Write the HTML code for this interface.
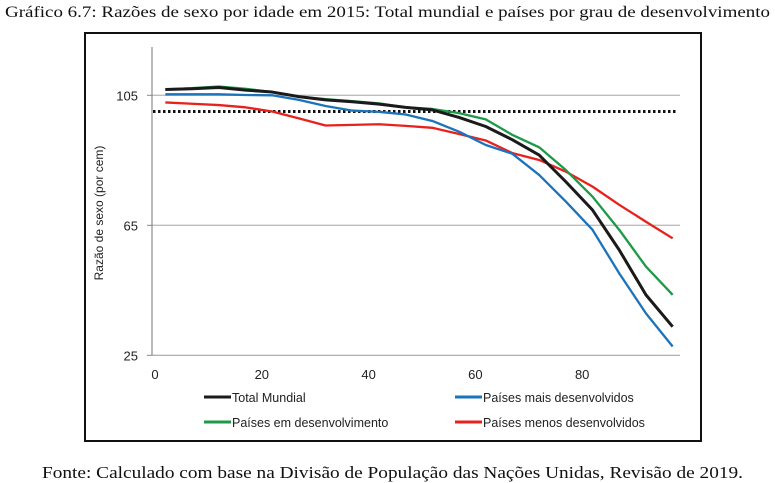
<!DOCTYPE html>
<html><head><meta charset="utf-8"><style>
html,body{margin:0;padding:0;background:#fff;}
svg{display:block;}
</style></head><body>
<svg id="chart" width="775" height="483" viewBox="0 0 775 483" xmlns="http://www.w3.org/2000/svg">
<text x="5" y="17" font-family="Liberation Serif, serif" font-size="16" textLength="765" lengthAdjust="spacingAndGlyphs" fill="#111">Gráfico 6.7: Razões de sexo por idade em 2015: Total mundial e países por grau de desenvolvimento</text>
<rect x="85" y="33" width="616" height="408" fill="none" stroke="#111" stroke-width="2"/>
<g id="grid"></g>
<g id="axes"></g>
<g id="series"></g>
<text transform="translate(103,213) rotate(-90)" text-anchor="middle" font-family="Liberation Sans, sans-serif" font-size="12" fill="#222">Razão de sexo (por cem)</text>
<g id="legend"></g>
<text x="42" y="478" font-family="Liberation Serif, serif" font-size="17" textLength="701" lengthAdjust="spacingAndGlyphs" fill="#111">Fonte: Calculado com base na Divisão de População das Nações Unidas, Revisão de 2019.</text>
</svg>
<script>
const ages = [2.5,7.5,12.5,17.5,22.5,27.5,32.5,37.5,42.5,47.5,52.5,57.5,62.5,67.5,72.5,77.5,82.5,87.5,92.5,97.5];
const totalMundial = [106.8,107,107.4,106.6,106,104.6,103.6,103,102.3,101.3,100.5,98.2,95.4,91.3,86.6,78.4,69.7,57.4,43.6,33.8];
const emDesenvolvimento = [106.8,107.2,107.7,107,106,104.6,103.8,103.2,102.5,101.3,100.8,99.5,97.6,92.8,89,82,73.8,63.6,52.3,43.6];
const maisDesenvolvidos = [105.3,105.3,105.3,105.1,105,103.6,101.7,100.3,99.9,99.1,97.1,93.8,89.7,87,80.5,72.3,63.6,50.2,37.9,27.7];
const menosDesenvolvidos = [102.8,102.4,102,101.3,100,97.9,95.7,95.9,96.1,95.6,95,93.1,91.1,87.2,85.1,81.5,76.9,71.3,66.1,61];
const xTicks = [0,20,40,60,80];
const yTicks = [25,65,105];
const refLine = 100;
const legendLabels = ["Total Mundial","Países mais desenvolvidos","Países em desenvolvimento","Países menos desenvolvidos"];

const NS="http://www.w3.org/2000/svg";
const x = v => 152 + v*5.34;
const y = v => 355.3 - (v-25)*3.25;
function mk(tag, attrs, parent){const e=document.createElementNS(NS,tag);for(const k in attrs)e.setAttribute(k,attrs[k]);parent.appendChild(e);return e;}
const grid=document.getElementById('grid'), axes=document.getElementById('axes'), ser=document.getElementById('series'), leg=document.getElementById('legend');

yTicks.forEach(t=>{
  if(t!==25){
    const g=mk('line',{x1:152,x2:680,y1:y(t),y2:y(t),stroke:'#bdbdbd','stroke-width':1.3},grid);
    
    
  }
  const tk=mk('line',{x1:147,x2:152,y1:y(t),y2:y(t),stroke:'#888','stroke-width':1},axes);
  
  
  const lb=mk('text',{x:138,y:y(t)+5,'text-anchor':'end','font-family':'Liberation Sans, sans-serif','font-size':13,fill:'#222'},axes);
  lb.textContent=t;
  
  
});
const xa=mk('line',{x1:152,x2:680,y1:y(25),y2:y(25),stroke:'#999','stroke-width':1},axes);


const ya=mk('line',{x1:152,x2:152,y1:47,y2:y(25),stroke:'#777','stroke-width':1},axes);


xTicks.forEach(t=>{
  const lb=mk('text',{x:x(t)+3,y:379,'text-anchor':'middle','font-family':'Liberation Sans, sans-serif','font-size':13,fill:'#222'},axes);
  lb.textContent=t;
  
  
});
const ref=mk('line',{x1:153,x2:676,y1:y(refLine),y2:y(refLine),stroke:'#111','stroke-width':3,'stroke-dasharray':'2.5 2.5'},grid);



const seriesDefs=[
  [menosDesenvolvidos,'#e8211b',2.3,'series-menos-desenvolvidos'],
  [maisDesenvolvidos,'#1a73bb',2.3,'series-mais-desenvolvidos'],
  [emDesenvolvimento,'#1d9a48',2.3,'series-em-desenvolvimento'],
  [totalMundial,'#1a1a1a',3,'series-total-mundial']
];
seriesDefs.forEach(([vals,col,w,name])=>{
  const p=mk('polyline',{points:ages.map((a,i)=>x(a)+','+y(vals[i])).join(' '),fill:'none',stroke:col,'stroke-width':w,'stroke-linejoin':'round'},ser);
  
  
});

const legPos=[[204,397,'#1a1a1a'],[455,397,'#1a73bb'],[204,422,'#1d9a48'],[455,422,'#e8211b']];
legendLabels.forEach((lab,i)=>{
  const [lx,ly,col]=legPos[i];
  const g=mk('g',{},leg);
  
  
  mk('line',{x1:lx,x2:lx+27,y1:ly,y2:ly,stroke:col,'stroke-width':3},g);
  const t=mk('text',{x:lx+28,y:ly+5,'font-family':'Liberation Sans, sans-serif','font-size':12.5,fill:'#222'},g);
  t.textContent=lab;
});
</script>
</body></html>
